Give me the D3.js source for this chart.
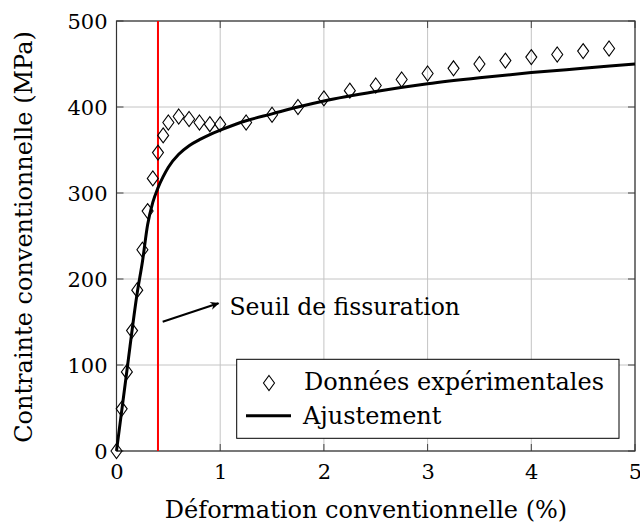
<!DOCTYPE html>
<html><head><meta charset="utf-8">
<script src="https://cdn.jsdelivr.net/npm/d3@7"></script>
<style>
html,body{margin:0;padding:0;background:#fff;}
text{font-family:"DejaVu Serif",serif;fill:#000;}
</style></head>
<body>
<svg id="c" width="640" height="525"></svg>
<script>
// Experimental data (strain %, stress MPa)
const expStrain = [0,0.05,0.1,0.15,0.2,0.25,0.3,0.35,0.4,0.45,0.5,0.6,0.7,0.8,0.9,1.0,1.25,1.5,1.75,2.0,2.25,2.5,2.75,3.0,3.25,3.5,3.75,4.0,4.25,4.5,4.75];
const expStress = [0,49,92,140,187,234,279,317,347,367,382,389,386,382,380,380,382,391,400,410,419,425,432,439,445,450,454,458,461,465,468];
// Fitted curve
const fitStrain = [0,0.1,0.2,0.25,0.3,0.35,0.4,0.45,0.5,0.6,0.7,0.8,0.9,1.0,1.25,1.5,1.75,2.0,2.5,3.0,3.5,4.0,4.5,5.0];
const fitStress = [0,93,184,220,263,289,306,319,330,345,355,362,368,373,384,392,400,407,418,427,434,440,445,450];
const xTicks = [0,1,2,3,4,5];
const yTicks = [0,100,200,300,400,500];
const crackStrain = 0.4;
const labels = {x:"Déformation conventionnelle (%)", y:"Contrainte conventionnelle (MPa)",
  exp:"Données expérimentales", fit:"Ajustement", crack:"Seuil de fissuration"};

const svg = d3.select("#c");
const L=116.5, R=635, T=21, B=451;
const x = d3.scaleLinear().domain([0,5]).range([L,R]);
const y = d3.scaleLinear().domain([0,500]).range([B,T]);

svg.append("defs").append("marker").attr("id","arr").attr("viewBox","0 0 10 10")
  .attr("refX",9).attr("refY",5).attr("markerWidth",10).attr("markerHeight",9)
  .attr("markerUnits","userSpaceOnUse").attr("orient","auto")
  .append("path").attr("d","M0,0.5 L10,5 L0,9.5 L3,5 Z").attr("fill","#000");

// grid
const g = svg.append("g");
g.selectAll(".gx").data(xTicks).join("line").attr("x1",d=>x(d)).attr("x2",d=>x(d))
  .attr("y1",T).attr("y2",B).attr("stroke","#c4c4c4").attr("stroke-width",1);
g.selectAll(".gy").data(yTicks).join("line").attr("y1",d=>y(d)).attr("y2",d=>y(d))
  .attr("x1",L).attr("x2",R).attr("stroke","#c4c4c4").attr("stroke-width",1);

// axes with inner ticks on all sides
const tk=7;
const axB = svg.append("g").attr("transform",`translate(0,${B})`)
  .call(d3.axisBottom(x).tickValues(xTicks).tickSize(0).tickPadding(9).tickFormat(d3.format("d")));
const axL = svg.append("g").attr("transform",`translate(${L},0)`)
  .call(d3.axisLeft(y).tickValues(yTicks).tickSize(0).tickPadding(9).tickFormat(d3.format("d")));
[axB,axL].forEach(a=>{a.select(".domain").remove(); a.selectAll("text").style("font-family","DejaVu Serif").style("font-size","21px").attr("fill","#000");});
axB.selectAll("text").attr("dy","0.9em");
axL.selectAll("text").attr("dy","0.36em");

const tg = svg.append("g").attr("stroke","#444").attr("stroke-width",1);
xTicks.forEach(v=>{
  tg.append("line").attr("x1",x(v)).attr("x2",x(v)).attr("y1",B).attr("y2",B-tk);
  tg.append("line").attr("x1",x(v)).attr("x2",x(v)).attr("y1",T).attr("y2",T+tk);
});
yTicks.forEach(v=>{
  tg.append("line").attr("y1",y(v)).attr("y2",y(v)).attr("x1",L).attr("x2",L+tk);
  tg.append("line").attr("y1",y(v)).attr("y2",y(v)).attr("x1",R).attr("x2",R-tk);
});

// frame
svg.append("rect").attr("x",L).attr("y",T).attr("width",R-L).attr("height",B-T)
  .attr("fill","none").attr("stroke","#333").attr("stroke-width",1.2);

// crack threshold line
svg.append("line").attr("x1",x(crackStrain)).attr("x2",x(crackStrain)).attr("y1",T).attr("y2",B)
  .attr("stroke","#ff0000").attr("stroke-width",2);

// diamonds
const dia = "M0,-7.5 L5.5,0 L0,7.5 L-5.5,0 Z";
svg.append("g").selectAll("path").data(expStrain.map((s,i)=>[s,expStress[i]])).join("path")
  .attr("d",dia).attr("transform",d=>`translate(${x(d[0])},${y(d[1])})`)
  .attr("fill","none").attr("stroke","#000").attr("stroke-width",1.1);

// fit curve
const line = d3.line().x(d=>x(d[0])).y(d=>y(d[1])).curve(d3.curveMonotoneX);
svg.append("path").datum(fitStrain.map((s,i)=>[s,fitStress[i]])).attr("d",line)
  .attr("fill","none").attr("stroke","#000").attr("stroke-width",3);

// annotation
svg.append("line").attr("x1",162.7).attr("y1",321.7).attr("x2",218.5).attr("y2",303.3)
  .attr("stroke","#000").attr("stroke-width",2).attr("marker-end","url(#arr)");
svg.append("text").attr("x",229.5).attr("y",315).style("font-size","23.5px").text(labels.crack);

// legend
const lg = svg.append("g");
lg.append("rect").attr("x",236.7).attr("y",359.3).attr("width",382.3).attr("height",79)
  .attr("fill","#fff").attr("stroke","#000").attr("stroke-width",1);
lg.append("path").attr("d",dia).attr("transform","translate(269,383)")
  .attr("fill","none").attr("stroke","#000").attr("stroke-width",1.1);
lg.append("line").attr("x1",246).attr("x2",291).attr("y1",415.7).attr("y2",415.7)
  .attr("stroke","#000").attr("stroke-width",3);
lg.append("text").attr("x",304).attr("y",389.5).style("font-size","24px").text(labels.exp);
lg.append("text").attr("x",303).attr("y",424).style("font-size","24px").text(labels.fit);

// axis labels
svg.append("text").attr("x",366).attr("y",518).attr("text-anchor","middle").style("font-size","24px").text(labels.x);
svg.append("text").attr("transform","translate(32,237) rotate(-90)").attr("text-anchor","middle").style("font-size","24px").text(labels.y);
</script>
</body></html>
